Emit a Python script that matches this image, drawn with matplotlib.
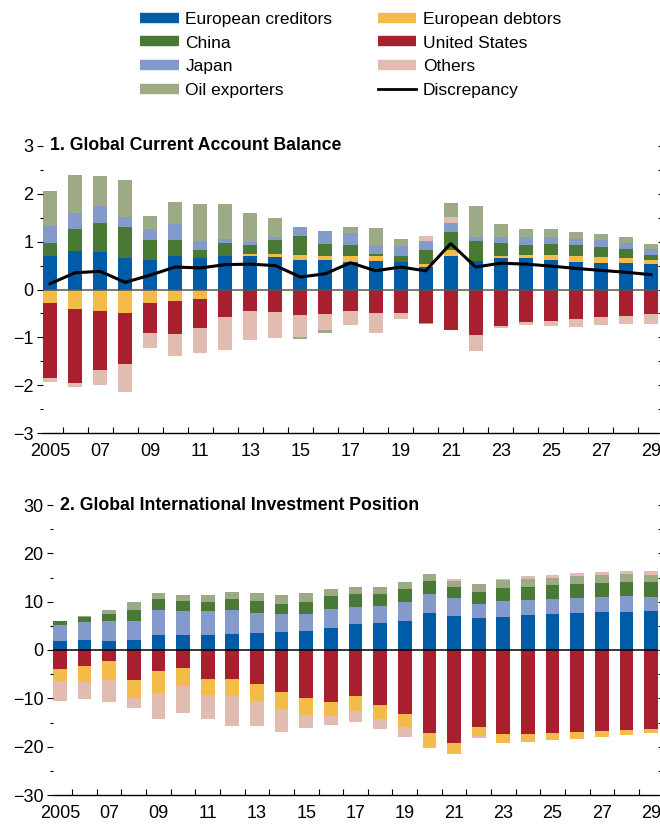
"""
Global current account balances and international investment positions, 2005-29.
"""
import matplotlib
matplotlib.use("Agg")
import matplotlib.pyplot as plt
import matplotlib.transforms as mtransforms
from matplotlib.lines import Line2D
import numpy as np

plt.rcParams['font.family'] = ['Liberation Sans', 'DejaVu Sans']

years = list(range(2005, 2030))
year_labels = ["2005", "07", "09", "11", "13", "15", "17", "19", "21", "23", "25", "27", "29"]

series_names = ["European creditors", "European debtors", "China", "United States",
                "Japan", "Others", "Oil exporters"]
colors = {
    "European creditors": "#005ca7",
    "European debtors": "#f3bb48",
    "China": "#497a35",
    "United States": "#a81f30",
    "Japan": "#839acb",
    "Others": "#e3bcb1",
    "Oil exporters": "#9daa86",
}

# Panel 1: current account balance (percent of world GDP)
ca_euro_creditors = [0.71, 0.81, 0.79, 0.65, 0.625, 0.69, 0.65, 0.69, 0.69, 0.67, 0.625, 0.625,
                     0.58, 0.60, 0.58, 0.48, 0.71, 0.60, 0.65, 0.65, 0.625, 0.58, 0.56, 0.56, 0.54]
ca_euro_debtors = [-0.29, -0.40, -0.44, -0.50, -0.29, -0.25, -0.19, -0.02, 0.06, 0.08, 0.10, 0.08,
                   0.11, 0.11, 0.0, 0.06, 0.12, 0.0, 0.06, 0.08, 0.10, 0.11, 0.11, 0.09, 0.08]
ca_china = [0.26, 0.46, 0.61, 0.66, 0.42, 0.35, 0.17, 0.29, 0.19, 0.29, 0.40, 0.25,
            0.23, 0.04, 0.13, 0.29, 0.38, 0.42, 0.27, 0.21, 0.23, 0.23, 0.21, 0.20, 0.11]
ca_us = [-1.56, -1.56, -1.25, -1.06, -0.61, -0.67, -0.62, -0.56, -0.44, -0.46, -0.54, -0.52,
         -0.44, -0.50, -0.50, -0.69, -0.85, -0.96, -0.77, -0.67, -0.65, -0.625, -0.58, -0.56, -0.52]
ca_japan = [0.36, 0.33, 0.35, 0.20, 0.23, 0.33, 0.19, 0.08, 0.06, 0.05, 0.19, 0.27,
            0.27, 0.19, 0.19, 0.19, 0.19, 0.08, 0.12, 0.15, 0.14, 0.14, 0.15, 0.13, 0.12]
ca_others = [-0.08, -0.07, -0.31, -0.58, -0.33, -0.46, -0.52, -0.69, -0.62, -0.56, -0.45, -0.33,
             -0.31, -0.40, -0.125, 0.10, 0.12, -0.33, -0.04, -0.08, -0.12, -0.15, -0.17, -0.17, -0.21]
ca_oil = [0.73, 0.80, 0.63, 0.78, 0.27, 0.46, 0.77, 0.73, 0.60, 0.40, -0.05, -0.05,
          0.12, 0.35, 0.16, -0.04, 0.29, 0.65, 0.27, 0.18, 0.17, 0.15, 0.13, 0.12, 0.11]
ca_discrepancy = [0.12, 0.35, 0.38, 0.15, 0.30, 0.47, 0.45, 0.52, 0.53, 0.50, 0.26, 0.33,
                  0.56, 0.39, 0.47, 0.39, 0.96, 0.47, 0.55, 0.53, 0.49, 0.44, 0.40, 0.36, 0.31]

# Panel 2: international investment position (percent of world GDP)
iip_euro_creditors = [1.94, 2.15, 1.94, 2.15, 3.19, 3.19, 3.19, 3.4, 3.6, 3.8, 4.0, 4.65,
                      5.28, 5.49, 6.1, 7.57, 6.94, 6.53, 6.74, 7.15, 7.36, 7.57, 7.78, 7.78, 7.99]
iip_euro_debtors = [-2.6, -3.3, -4.0, -3.75, -4.5, -3.75, -3.3, -3.5, -3.5, -3.5, -3.55, -2.9,
                    -3.05, -2.9, -2.7, -2.9, -2.3, -1.85, -1.9, -1.67, -1.46, -1.46, -1.25, -1.05, -0.83]
iip_china = [0.83, 1.04, 1.46, 2.3, 2.3, 2.08, 1.88, 2.3, 2.5, 1.88, 2.3, 2.7,
             2.7, 2.5, 2.7, 2.7, 2.3, 2.5, 2.7, 2.7, 2.9, 2.9, 2.9, 2.9, 3.1]
iip_us = [-3.9, -3.4, -2.2, -6.2, -4.3, -3.7, -6.0, -6.0, -7.0, -8.7, -9.9, -10.8,
          -9.5, -11.4, -13.3, -17.2, -19.3, -16.0, -17.4, -17.4, -17.2, -17.0, -16.8, -16.6, -16.4]
iip_japan = [3.2, 3.55, 3.96, 3.75, 5.0, 4.8, 4.8, 4.8, 3.96, 3.75, 3.55, 3.75,
             3.54, 3.54, 3.75, 3.96, 3.75, 2.9, 3.33, 3.1, 3.1, 3.1, 3.1, 3.33, 2.9]
iip_others = [-4.0, -3.4, -4.5, -2.1, -5.5, -5.6, -5.0, -6.25, -5.2, -4.8, -2.7, -1.9,
              -2.36, -2.1, -1.9, -0.2, 0.4, -0.4, 0.2, 0.63, 0.63, 0.63, 0.63, 0.63, 0.83]
iip_oil = [0.13, 0.2, 0.83, 1.67, 1.25, 1.25, 1.46, 1.46, 1.67, 1.88, 1.88, 1.46,
           1.46, 1.46, 1.46, 1.46, 1.25, 1.67, 1.67, 1.67, 1.46, 1.67, 1.67, 1.67, 1.46]


def stackBars(ax, data, order, width):
    """
    Draws positive and negative values stacked separately, in the given order.
    """
    x = np.arange(len(years))
    pos = np.zeros(len(years))
    neg = np.zeros(len(years))
    for name in order:
        vals = np.array(data[name])
        p = np.where(vals > 0, vals, 0)
        n = np.where(vals < 0, vals, 0)
        ax.bar(x, p, width, bottom=pos, color=colors[name], linewidth=0)
        ax.bar(x, n, width, bottom=neg, color=colors[name], linewidth=0)
        pos += p
        neg += n


def styleAxis(ax, ymin, ymax, major, minor, title, zero_color, width):
    n = len(years)
    ax.set_xlim(-width / 2, n - 1 + width / 2)
    ax.set_ylim(ymin, ymax)
    for s in ["top", "left", "right"]:
        ax.spines[s].set_visible(False)
    ax.spines["bottom"].set_linewidth(1.0)
    ax.axhline(0, color=zero_color, lw=1.1, zorder=3)

    ax.set_yticks(np.arange(ymin, ymax + 0.001, major))
    ax.set_yticks(np.arange(ymin, ymax + 0.001, minor), minor=True)
    ax.yaxis.set_ticks_position("both")
    ax.tick_params(axis="y", which="major", direction="out", length=4, width=0.8,
                   labelsize=13, pad=3, right=True)
    ax.tick_params(axis="y", which="minor", direction="out", length=2.5, width=0.8, right=True)

    ax.set_xticks(np.arange(0, n, 2))
    ax.set_xticklabels(year_labels)
    ax.set_xticks(np.arange(0.5, n - 1, 1), minor=True)
    ax.tick_params(axis="x", which="major", length=0, labelsize=13, pad=7)
    ax.tick_params(axis="x", which="minor", direction="in", length=4, width=0.8)

    trans = mtransforms.blended_transform_factory(ax.transAxes, ax.transData)
    ax.text(0.011, ymax, title, transform=trans, ha="left", va="center",
            fontsize=12.7, fontweight="bold")


fig = plt.figure(figsize=(6.6, 8.25), dpi=100)
width = 0.56

ax1 = fig.add_axes([43 / 660, 1 - 433 / 825, 615 / 660, 287 / 825])
ca = {
    "European creditors": ca_euro_creditors, "European debtors": ca_euro_debtors,
    "China": ca_china, "United States": ca_us, "Japan": ca_japan,
    "Others": ca_others, "Oil exporters": ca_oil,
}
stackBars(ax1, ca, series_names, width)
ax1.plot(np.arange(len(years)), ca_discrepancy, color="black", lw=2.2, zorder=4)
styleAxis(ax1, -3, 3, 1, 0.5, "1. Global Current Account Balance", "#555555", width)

ax2 = fig.add_axes([53 / 660, 1 - 795 / 825, 605 / 660, 290 / 825])
iip = {
    "European creditors": iip_euro_creditors, "European debtors": iip_euro_debtors,
    "China": iip_china, "United States": iip_us, "Japan": iip_japan,
    "Others": iip_others, "Oil exporters": iip_oil,
}
iip_order = ["European creditors", "United States", "Japan", "China",
             "European debtors", "Oil exporters", "Others"]
stackBars(ax2, iip, iip_order, width)
styleAxis(ax2, -30, 30, 10, 5, "2. Global International Investment Position", "black", width)

# legend, filled column by column
leg_order = ["European creditors", "China", "Japan", "Oil exporters",
             "European debtors", "United States", "Others"]
handles = [Line2D([], [], color=colors[k], lw=7.5, solid_capstyle="butt") for k in leg_order]
handles.append(Line2D([], [], color="black", lw=2))
labels = leg_order + ["Discrepancy"]
fig.legend(handles, labels, ncol=2, loc="upper left", bbox_to_anchor=(0.2126, 0.986),
           frameon=False, fontsize=12.5, handlelength=2.2, handletextpad=0.4,
           columnspacing=2.6, labelspacing=0.5, borderpad=0, borderaxespad=0)

fig.savefig("out.png", dpi=100)
